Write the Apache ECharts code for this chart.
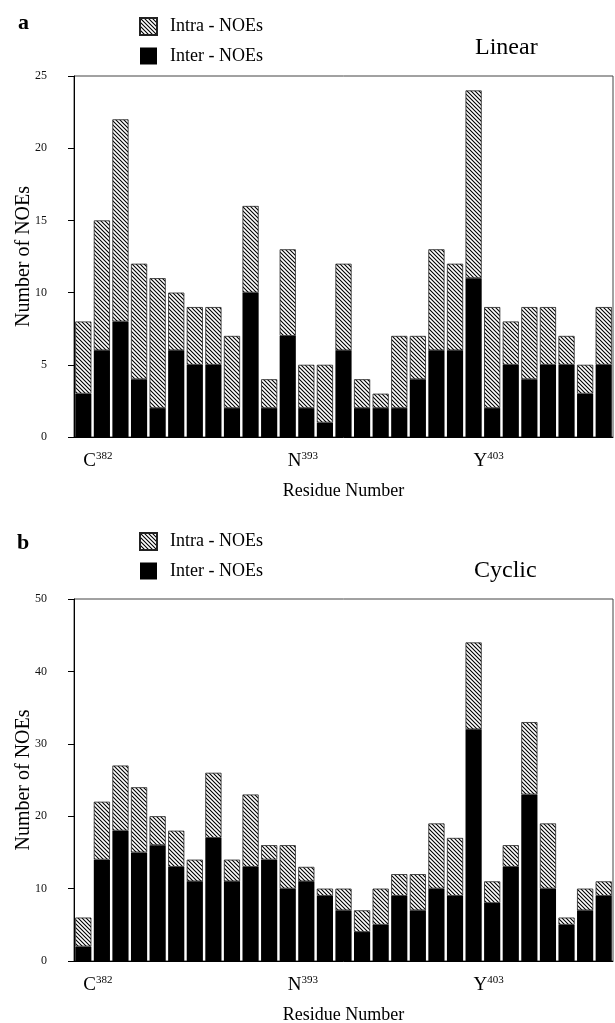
<!DOCTYPE html>
<html>
<head>
<meta charset="utf-8">
<script src="https://cdn.jsdelivr.net/npm/echarts@6/dist/echarts.min.js"></script>
<style>
  html, body { margin: 0; padding: 0; background: #fff; }
  #chart { width: 615px; height: 1023px; }
</style>
</head>
<body>
<div id="chart"></div>
<script>
// residues 382..410
var residues = [382, 383, 384, 385, 386, 387, 388, 389, 390, 391, 392, 393, 394, 395, 396,
  397, 398, 399, 400, 401, 402, 403, 404, 405, 406, 407, 408, 409, 410]
// residues that get a label on the x axis
var labelNames = { 382: 'C', 393: 'N', 403: 'Y' }

// panel a - linear
var interLinear = [3, 6, 8, 4, 2, 6, 5, 5, 2, 10, 2, 7, 2, 1, 6, 2, 2, 2, 4, 6, 6, 11, 2, 5, 4, 5, 5, 3, 5]
var intraLinear = [5, 9, 14, 8, 9, 4, 4, 4, 5, 6, 2, 6, 3, 4, 6, 2, 1, 5, 3, 7, 6, 13, 7, 3, 5, 4, 2, 2, 4]

// panel b - cyclic
var interCyclic = [2, 14, 18, 15, 16, 13, 11, 17, 11, 13, 14, 10, 11, 9, 7, 4, 5, 9, 7, 10, 9, 32, 8, 13, 23, 10, 5, 7, 9]
var intraCyclic = [4, 8, 9, 9, 4, 5, 3, 9, 3, 10, 2, 6, 2, 1, 3, 3, 5, 3, 5, 9, 8, 12, 3, 3, 10, 9, 1, 3, 2]

var serif = 'Liberation Serif'

// hatch pattern (\\\)
function makeHatch() {
  var s = 4
  var c = document.createElement('canvas')
  c.width = s
  c.height = s
  var ctx = c.getContext('2d')
  ctx.fillStyle = '#fff'
  ctx.fillRect(0, 0, s, s)
  ctx.strokeStyle = '#000'
  ctx.lineWidth = 1.1
  ctx.beginPath()
  ctx.moveTo(-1, -1); ctx.lineTo(s + 1, s + 1)
  ctx.moveTo(-1, s - 1); ctx.lineTo(1, s + 1)
  ctx.moveTo(s - 1, -1); ctx.lineTo(s + 1, 1)
  ctx.stroke()
  return c
}
var hatch = { image: makeHatch(), repeat: 'repeat' }

var chart = echarts.init(document.getElementById('chart'))

function xAxisFor(idx) {
  return {
    type: 'category',
    gridIndex: idx,
    data: residues,
    name: 'Residue Number',
    nameLocation: 'middle',
    nameGap: 45,
    nameTextStyle: { fontFamily: serif, fontSize: 18, color: '#000' },
    axisLine: { lineStyle: { color: '#000', width: 1 } },
    axisTick: { show: false },
    axisLabel: {
      interval: 0,
      align: 'left',
      margin: 14,
      formatter: function (v) {
        var n = labelNames[v]
        return n ? '{m|' + n + '}{s|' + v + '}' : ''
      },
      rich: {
        m: { fontFamily: serif, fontSize: 19, color: '#000' },
        s: { fontFamily: serif, fontSize: 11, color: '#000', padding: [0, 0, 10, 0] }
      }
    }
  }
}

function yAxisFor(idx, max, step) {
  return {
    type: 'value',
    gridIndex: idx,
    min: 0,
    max: max,
    interval: step,
    name: 'Number of NOEs',
    nameLocation: 'middle',
    nameGap: 40,
    nameMoveOverlap: false,
    nameTextStyle: { fontFamily: serif, fontSize: 20, color: '#000' },
    axisLine: { show: true, lineStyle: { color: '#000', width: 1 } },
    axisTick: { show: true, length: 6, lineStyle: { color: '#000' } },
    axisLabel: { fontFamily: serif, fontSize: 12, color: '#111', margin: 27 },
    splitLine: { show: false }
  }
}

function barPair(idx, inter, intra) {
  return [
    {
      name: 'Inter - NOEs',
      type: 'bar',
      stack: 'p' + idx,
      xAxisIndex: idx,
      yAxisIndex: idx,
      data: inter,
      barCategoryGap: '13%',
      itemStyle: { color: '#000' }
    },
    {
      name: 'Intra - NOEs',
      type: 'bar',
      stack: 'p' + idx,
      xAxisIndex: idx,
      yAxisIndex: idx,
      data: intra,
      barCategoryGap: '13%',
      itemStyle: { color: hatch, borderColor: '#222', borderWidth: 0.8 }
    }
  ]
}

function legendFor(top) {
  return {
    orient: 'vertical',
    left: 134,
    top: top,
    itemWidth: 17,
    itemHeight: 17,
    itemGap: 11,
    icon: 'rect',
    selectedMode: false,
    data: ['Intra - NOEs', 'Inter - NOEs'],
    textStyle: { fontFamily: serif, fontSize: 18, color: '#000', padding: [0, 0, 0, 8] }
  }
}

var option = {
  backgroundColor: '#fff',
  animation: false,
  title: [
    { text: 'a', left: 13, top: 7, textStyle: { fontFamily: serif, fontSize: 22, fontWeight: 'bold', color: '#000' } },
    { text: 'Linear', left: 470, top: 31, textStyle: { fontFamily: serif, fontSize: 24, fontWeight: 'normal', color: '#000' } },
    { text: 'b', left: 12, top: 527, textStyle: { fontFamily: serif, fontSize: 22, fontWeight: 'bold', color: '#000' } },
    { text: 'Cyclic', left: 469, top: 554, textStyle: { fontFamily: serif, fontSize: 24, fontWeight: 'normal', color: '#000' } }
  ],
  legend: [legendFor(12), legendFor(527)],
  grid: [
    { left: 74, right: 2, top: 76, height: 361, outerBoundsMode: 'none', show: true, borderColor: '#444', borderWidth: 1 },
    { left: 74, right: 2, top: 599, height: 362, outerBoundsMode: 'none', show: true, borderColor: '#444', borderWidth: 1 }
  ],
  xAxis: [xAxisFor(0), xAxisFor(1)],
  yAxis: [yAxisFor(0, 25, 5), yAxisFor(1, 50, 10)],
  series: barPair(0, interLinear, intraLinear).concat(barPair(1, interCyclic, intraCyclic))
}

chart.setOption(option)
</script>
</body>
</html>
